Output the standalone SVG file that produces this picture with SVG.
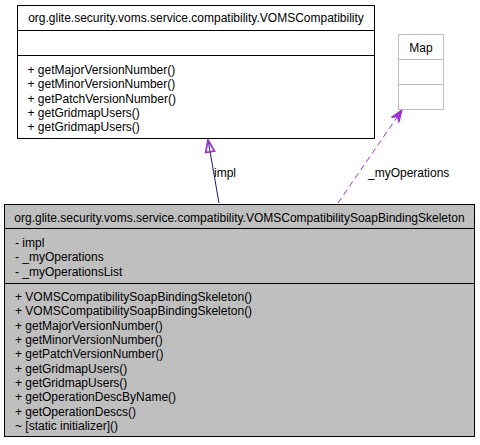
<svg xmlns="http://www.w3.org/2000/svg" width="480" height="445" viewBox="0 0 480 445">
<style>
text{font-family:"Liberation Sans",Arial,Helvetica,sans-serif;font-size:12px;fill:#000}
.box{fill:#fff;stroke:#000;stroke-width:1}
.cur{fill:#bfbfbf;stroke:#000;stroke-width:1}
.ext{fill:#fff;stroke:#bfbfbf;stroke-width:1}
.sep{stroke:#000;stroke-width:1}
.sepx{stroke:#bfbfbf;stroke-width:1}
.mid{text-anchor:middle}
.edge{fill:none;stroke-width:1}
</style>
<defs>
<marker id="empty" markerUnits="userSpaceOnUse" viewBox="0 0 14 12" refX="13" refY="6" markerWidth="14" markerHeight="12" orient="auto">
<path d="M1,1.5 L13,6 L1,10.5 Z" fill="none" stroke="#9a32cd" stroke-width="1.8" stroke-linejoin="miter"/>
</marker>
<marker id="open" markerUnits="userSpaceOnUse" viewBox="0 0 14 12" refX="13" refY="6" markerWidth="14" markerHeight="12" orient="auto">
<path d="M1,1.5 L13,6 L1,10.5 L5,6 Z" fill="#9a32cd" stroke="#9a32cd" stroke-width="1.2"/>
</marker>
</defs>
<rect width="480" height="445" fill="#fff"/>
<g id="connectors">
<path class="edge" d="M219,203 L208,140" stroke="#191970" marker-end="url(#empty)"/>
<text x="214" y="177">impl</text>
<path class="edge" d="M338,203 L402,110" stroke="#9a32cd" stroke-dasharray="6,4" marker-end="url(#open)"/>
<text x="368" y="177">_myOperations</text>
</g>
<g id="VOMSCompatibility">
<rect class="box" x="17.5" y="5.5" width="357" height="133"/>
<line class="sep" x1="17.5" y1="30.5" x2="374.5" y2="30.5"/>
<line class="sep" x1="17.5" y1="55.5" x2="374.5" y2="55.5"/>
<text class="mid" x="196" y="22">org.glite.security.voms.service.compatibility.VOMSCompatibility</text>
<text x="27.5" y="74">+ getMajorVersionNumber()</text>
<text x="27.5" y="88.3">+ getMinorVersionNumber()</text>
<text x="27.5" y="102.7">+ getPatchVersionNumber()</text>
<text x="27.5" y="117">+ getGridmapUsers()</text>
<text x="27.5" y="131.3">+ getGridmapUsers()</text>
</g>
<g id="Map">
<rect class="ext" x="398.5" y="34.5" width="45" height="75"/>
<line class="sepx" x1="398.5" y1="59.5" x2="443.5" y2="59.5"/>
<line class="sepx" x1="398.5" y1="84.5" x2="443.5" y2="84.5"/>
<text class="mid" x="421" y="52">Map</text>
</g>
<g id="VOMSCompatibilitySoapBindingSkeleton">
<rect class="cur" x="4.5" y="204.5" width="470" height="232"/>
<line class="sep" x1="4.5" y1="228.5" x2="474.5" y2="228.5"/>
<line class="sep" x1="4.5" y1="283.5" x2="474.5" y2="283.5"/>
<text class="mid" x="239.5" y="222">org.glite.security.voms.service.compatibility.VOMSCompatibilitySoapBindingSkeleton</text>
<text x="15" y="247">- impl</text>
<text x="15" y="261.3">- _myOperations</text>
<text x="15" y="275.7">- _myOperationsList</text>
<text x="15" y="301">+ VOMSCompatibilitySoapBindingSkeleton()</text>
<text x="15" y="315.3">+ VOMSCompatibilitySoapBindingSkeleton()</text>
<text x="15" y="329.7">+ getMajorVersionNumber()</text>
<text x="15" y="344">+ getMinorVersionNumber()</text>
<text x="15" y="358.3">+ getPatchVersionNumber()</text>
<text x="15" y="372.7">+ getGridmapUsers()</text>
<text x="15" y="387">+ getGridmapUsers()</text>
<text x="15" y="401.3">+ getOperationDescByName()</text>
<text x="15" y="415.7">+ getOperationDescs()</text>
<text x="15" y="430">~ [static initializer]()</text>
</g>
</svg>
